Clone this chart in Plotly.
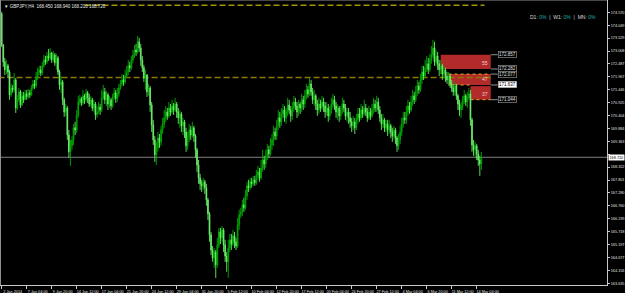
import plotly.graph_objects as go

symbol = "GBPJPY,H4"
first_open = 174.51
closes = [
173.25,172.57,172.25,172.41,172.16,171.24,171.52,171.44,171.84,170.71,171.04,171.36,170.83,171.20,171.04,171.28,
171.16,171.32,171.24,171.52,171.68,171.60,171.96,172.16,172.25,172.12,172.41,172.65,172.57,172.81,172.73,172.93,
172.65,172.85,172.53,172.73,172.16,171.64,171.76,171.04,170.55,170.71,169.62,168.94,169.18,169.42,169.91,169.82,
170.43,170.95,171.08,170.91,171.20,171.04,171.32,171.12,170.87,171.04,170.71,170.87,170.43,170.55,170.75,170.63,
171.12,171.36,171.04,171.24,170.87,171.04,170.79,171.16,171.32,171.08,171.28,171.52,171.68,171.84,171.76,172.00,
172.16,172.41,172.33,172.65,172.85,173.05,172.97,173.38,173.13,172.65,172.33,171.92,172.04,171.36,171.52,170.83,
170.03,169.42,168.82,169.10,169.50,169.34,169.82,170.07,170.31,170.55,170.39,170.71,170.55,170.79,170.63,170.87,
170.55,170.31,170.47,169.99,170.15,169.74,169.18,169.50,169.82,169.62,169.91,169.58,169.02,168.41,167.89,167.65,
167.57,167.73,167.49,167.00,166.44,165.59,164.98,164.66,164.90,164.38,165.18,165.71,165.47,165.79,165.18,164.74,
164.50,165.06,165.39,165.22,165.55,165.31,165.14,165.99,166.40,166.52,166.80,166.68,167.16,167.57,167.49,167.73,
167.65,167.81,167.69,168.01,168.13,167.89,168.29,168.61,168.45,168.78,169.02,168.86,169.22,169.42,169.74,169.58,
169.99,170.31,170.15,170.47,170.63,170.31,170.55,170.83,170.63,170.39,170.71,170.95,170.79,170.55,170.87,170.71,
171.04,170.87,171.20,171.44,171.28,171.68,171.36,171.04,171.20,170.87,170.63,170.87,170.71,170.95,170.79,170.55,
170.71,170.39,170.63,170.87,171.04,170.79,170.55,170.71,170.39,170.63,170.87,170.71,170.39,170.55,170.31,170.15,
169.99,170.15,169.91,170.23,170.47,170.31,170.63,170.47,170.71,170.55,170.31,170.55,170.39,170.63,170.87,170.71,
170.95,170.63,170.31,170.07,170.23,169.91,170.07,169.82,169.99,169.74,169.58,169.82,169.50,169.18,169.42,169.74,
170.07,170.31,170.23,170.55,170.79,170.63,170.95,171.20,171.04,171.36,171.60,171.44,171.84,172.16,172.00,172.33,
172.49,172.25,172.65,172.85,173.13,172.57,172.81,172.49,172.25,172.41,172.08,172.25,172.00,171.84,172.00,171.68,
171.52,171.36,171.60,171.20,170.87,170.63,170.79,171.04,171.20,170.95,171.12,171.28,170.23,169.22,169.02,169.18,
168.86,168.61,168.45,168.72]
highs = [
174.59,173.29,172.73,172.65,172.49,172.25,171.68,171.64,172.12,171.92,171.24,171.52,171.44,171.36,171.36,171.44,
171.44,171.48,171.44,171.64,171.84,171.84,172.16,172.33,172.41,172.41,172.57,172.85,172.81,172.97,173.09,173.13,
172.97,173.01,172.93,172.89,172.81,172.25,172.00,171.84,171.12,170.87,170.79,169.82,169.42,169.58,170.07,170.15,
170.63,171.20,171.24,171.16,171.44,171.28,171.48,171.40,171.28,171.20,171.12,171.04,170.95,170.79,170.95,170.87,
171.44,171.64,171.52,171.40,171.32,171.20,171.12,171.28,171.52,171.44,171.52,171.68,171.84,172.08,172.04,172.25,
172.41,172.65,172.57,172.81,173.05,173.25,173.29,173.62,173.54,173.29,172.81,172.45,172.25,172.08,171.68,171.60,
170.95,170.23,169.58,169.34,169.74,169.66,169.99,170.31,170.63,170.79,170.71,170.95,170.87,171.04,170.91,171.12,
170.95,170.71,170.63,170.55,170.31,170.23,169.91,169.74,170.07,169.99,170.15,169.99,169.66,169.10,168.61,168.05,
167.81,167.89,167.81,167.65,167.08,166.52,165.71,165.14,165.06,164.98,165.47,165.87,165.87,165.95,165.87,165.39,
164.90,165.39,165.63,165.63,165.79,165.71,165.47,166.27,166.60,166.68,167.00,167.08,167.40,167.73,167.81,167.89,
167.89,167.97,167.97,168.21,168.37,168.29,168.61,169.02,168.78,169.02,169.26,169.18,169.50,169.66,169.99,169.91,
170.23,170.63,170.55,170.71,170.87,170.79,170.71,171.12,171.04,170.79,170.95,171.20,171.12,170.95,171.04,170.95,
171.28,171.20,171.44,171.68,171.60,171.92,171.84,171.52,171.44,171.28,171.04,171.12,171.04,171.20,171.12,170.95,
170.95,170.87,170.79,171.12,171.28,171.20,170.95,170.87,170.79,170.79,171.12,171.04,170.87,170.71,170.71,170.55,
170.31,170.39,170.31,170.47,170.71,170.71,170.87,170.79,171.04,170.87,170.71,170.79,170.71,170.87,171.12,171.04,
171.20,171.12,170.79,170.47,170.47,170.31,170.23,170.23,170.23,170.07,169.91,169.99,169.91,169.58,169.66,169.99,
170.31,170.55,170.55,170.79,171.04,170.95,171.20,171.44,171.36,171.60,171.84,171.76,172.08,172.41,172.41,172.65,
172.81,172.73,172.89,173.21,173.46,173.38,173.05,172.97,172.65,172.65,172.49,172.41,172.33,172.16,172.16,172.08,
171.84,171.68,171.76,171.68,171.28,171.04,170.95,171.20,171.44,171.28,171.36,171.52,171.44,170.31,169.42,169.34,
169.26,169.02,168.78,168.94]
lows = [
173.17,172.37,172.04,172.08,171.92,171.04,171.16,171.32,171.36,170.51,170.63,170.95,170.71,170.79,170.91,171.04,
171.04,171.08,171.12,171.20,171.44,171.48,171.52,171.84,172.04,172.00,172.04,172.33,172.45,172.49,172.61,172.65,
172.53,172.57,172.41,172.25,172.04,171.44,171.32,170.83,170.35,170.39,169.42,168.70,168.37,169.02,169.22,169.62,
169.70,170.31,170.83,170.79,170.83,170.87,170.95,170.91,170.75,170.79,170.59,170.55,170.23,170.31,170.47,170.43,
170.55,171.04,170.87,170.79,170.63,170.71,170.63,170.71,171.04,170.91,170.95,171.16,171.44,171.60,171.60,171.68,
171.92,172.04,172.16,172.25,172.53,172.73,172.81,172.89,172.97,172.41,172.16,171.76,171.44,171.16,171.20,170.55,
169.74,169.22,168.53,168.41,168.94,169.10,169.18,169.66,169.91,170.15,170.23,170.31,170.39,170.47,170.43,170.55,
170.31,170.07,169.91,169.74,169.62,169.50,168.94,169.02,169.34,169.42,169.50,169.34,168.70,168.13,167.65,167.40,
167.32,167.40,167.24,166.76,166.19,165.31,164.78,164.50,164.26,163.85,164.26,165.06,165.22,165.31,164.90,164.50,
164.10,163.85,164.90,164.98,165.14,165.06,164.98,165.06,165.79,166.27,166.35,166.52,166.60,167.00,167.32,167.40,
167.49,167.57,167.57,167.61,167.81,167.73,167.81,168.13,168.21,168.29,168.61,168.70,168.78,169.02,169.18,169.42,
169.42,169.82,169.91,169.99,170.31,170.15,170.07,170.39,170.47,170.15,170.23,170.55,170.63,170.31,170.39,170.47,
170.55,170.63,170.71,171.04,171.12,171.20,171.20,170.87,170.79,170.63,170.39,170.47,170.55,170.63,170.55,170.31,
170.39,170.15,170.23,170.47,170.71,170.63,170.31,170.23,170.15,170.23,170.47,170.55,170.23,170.15,170.07,169.91,
169.74,169.82,169.66,169.82,170.07,170.15,170.23,170.31,170.39,170.39,170.15,170.23,170.23,170.31,170.47,170.55,
170.55,170.47,170.15,169.82,169.91,169.74,169.74,169.58,169.66,169.50,169.34,169.42,169.26,168.94,169.02,169.26,
169.58,169.91,170.07,170.07,170.39,170.47,170.55,170.79,170.87,170.95,171.20,171.28,171.36,171.68,171.84,171.92,
172.16,172.08,172.16,172.49,172.73,172.41,172.41,172.25,172.00,172.08,171.84,171.92,171.76,171.68,171.60,171.52,
171.36,171.20,171.20,171.04,170.63,170.39,170.31,170.63,170.87,170.79,170.71,171.04,169.99,168.94,168.78,168.70,
168.61,168.37,167.97,168.21]

date_labels = ["2 Jan 2014", "7 Jan 04:00", "9 Jan 20:00", "14 Jan 12:00", "17 Jan 04:00",
               "21 Jan 20:00", "24 Jan 12:00", "29 Jan 04:00", "31 Jan 20:00", "5 Feb 12:00",
               "10 Feb 04:00", "12 Feb 20:00", "17 Feb 12:00", "20 Feb 04:00", "24 Feb 20:00",
               "27 Feb 12:00", "4 Mar 04:00", "6 Mar 20:00", "11 Mar 12:00", "14 Mar 04:00"]
date_label_bars = [0, 16, 32, 48, 64, 80, 96, 112, 128, 144, 160, 176, 192, 208, 224, 240, 256, 272, 288, 304]

price_ticks = [174.570, 174.049, 173.529, 173.008, 172.487, 171.967, 171.446, 170.925, 170.404,
               169.884, 169.363, 168.842, 168.322, 167.801, 167.280, 166.760, 166.239, 165.718,
               165.197, 164.677, 164.156, 163.635]
hidden_tick = 168.842  # covered by the bid price tag in the reference

zone_top = [172.857, 172.077, 171.590]
zone_bottom = [172.282, 171.637, 171.044]
zone_start = [281, 286, 300]
zone_end = 313
zone_strength = ["55", "47", "37"]
zone_price_tags = [172.857, 172.282, 172.077, 171.637, 171.044]
highlight_tag = 171.637

upper_line = 174.85
upper_line_bars = [53, 309]
mid_line = 171.94
mid_line_bars = [-2, 313]

x_range = [-1.09, 387.4]
y_range = [163.566, 175.066]

n = len(closes)
opens = [first_open] + closes[:-1]
bars = list(range(n))
last = closes[-1]

FONT = "Liberation Sans"
AX = 3.8
fig = go.Figure()
fig.add_trace(go.Candlestick(
    x=bars, open=opens, high=highs, low=lows, close=closes,
    increasing=dict(line=dict(color="#00a800", width=0.9), fillcolor="#008c00"),
    decreasing=dict(line=dict(color="#66ee66", width=0.9), fillcolor="#a8f8a8"),
    whiskerwidth=0, showlegend=False, hoverinfo="skip"))

shapes = []
for t, b, s in zip(zone_top, zone_bottom, zone_start):
    shapes.append(dict(type="rect", xref="x", yref="y", x0=s, x1=zone_end, y0=b, y1=t,
                       fillcolor="#b22a2a", line=dict(width=0), layer="below"))
shapes.append(dict(type="line", xref="x", yref="y", x0=zone_start[1], x1=zone_end, y0=zone_top[1], y1=zone_top[1],
                   line=dict(color="#e0b020", width=1, dash="dot"), layer="below"))
shapes.append(dict(type="line", xref="x", yref="y", x0=zone_start[1], x1=zone_start[2], y0=zone_bottom[1], y1=zone_bottom[1],
                   line=dict(color="#e0b020", width=1, dash="dot"), layer="below"))
shapes.append(dict(type="line", xref="x", yref="y", x0=zone_start[2], x1=zone_end, y0=zone_bottom[2], y1=zone_bottom[2],
                   line=dict(color="#e0b020", width=1, dash="dot"), layer="below"))
shapes.append(dict(type="line", xref="x", yref="y", x0=mid_line_bars[0], x1=mid_line_bars[1], y0=mid_line, y1=mid_line,
                   line=dict(color="#8a7a00", width=1.5, dash="6px,3px"), layer="below"))
shapes.append(dict(type="line", xref="x", yref="y", x0=upper_line_bars[0], x1=upper_line_bars[1], y0=upper_line, y1=upper_line,
                   line=dict(color="#a09400", width=1.5, dash="6px,3px"), layer="below"))
shapes.append(dict(type="line", xref="paper", yref="y", x0=0, x1=1, y0=last, y1=last,
                   line=dict(color="#808080", width=1), layer="below"))
for p in zone_price_tags:
    shapes.append(dict(type="line", xref="x", yref="y", x0=zone_end, x1=zone_end + 4.5, y0=p, y1=p,
                       line=dict(color="#909090", width=1), layer="below"))
shapes.append(dict(type="line", xref="paper", yref="paper", x0=0, x1=0, y0=0, y1=1,
                   line=dict(color="#909090", width=2)))
shapes.append(dict(type="line", xref="paper", yref="paper", x0=0, x1=1, y0=1, y1=1,
                   line=dict(color="#909090", width=1)))

ann = []
for b, s in zip(zone_bottom, zone_strength):
    ann.append(dict(x=zone_end - 0.8, y=b, xref="x", yref="y", text=s, showarrow=False,
                    xanchor="right", yanchor="bottom", yshift=1,
                    font=dict(family=FONT, size=5, color="#f0d0d0")))
for p in zone_price_tags:
    hl = (p == highlight_tag)
    ann.append(dict(x=zone_end + 4.5, y=p, xref="x", yref="y", text=f"{p:.3f}", showarrow=False,
                    xanchor="left", yanchor="middle",
                    bgcolor="#ffffff" if hl else "#000000", bordercolor="#a0a0a0", borderwidth=0.6, borderpad=0.5,
                    font=dict(family=FONT, size=4.5, color="#000000" if hl else "#e0e0e0")))
ann.append(dict(x=1, y=last, xref="paper", yref="y", text=f"{last:.3f}", showarrow=False,
                xanchor="left", yanchor="middle", xshift=1, bgcolor="#ffffff", borderpad=0.5,
                font=dict(family=FONT, size=AX, color="#000000")))
ann.append(dict(x=0.004, y=1, xref="paper", yref="paper", yanchor="top", xanchor="left", yshift=-2,
                text=f"▼ {symbol}  {opens[-1]:.3f} {highs[-1]:.3f} {lows[-1]:.3f} {closes[-1]:.3f}",
                showarrow=False, font=dict(family=FONT, size=4.5, color="#e8e8e8")))
teal = "#20b0b0"
ann.append(dict(x=598 / 607, y=1 - 17 / 285, xref="paper", yref="paper", xanchor="right", yanchor="middle",
                text=(f"D1: <span style='color:{teal}'>0%</span>  |  W1: <span style='color:{teal}'>0%</span>"
                      f"  |  MN: <span style='color:{teal}'>0%</span>"),
                showarrow=False, font=dict(family=FONT, size=5, color="#d8d8d8")))

fig.update_layout(
    width=625, height=293, margin=dict(l=0, r=18, t=0, b=8, autoexpand=False),
    paper_bgcolor="#000000", plot_bgcolor="#000000",
    shapes=shapes, annotations=ann, showlegend=False,
    xaxis=dict(range=x_range, rangeslider=dict(visible=False), showgrid=False, zeroline=False,
               showline=True, linecolor="#c8c8c8", linewidth=1, ticks="outside", ticklen=3,
               tickcolor="#c8c8c8", tickvals=date_label_bars, ticktext=date_labels,
               tickangle=0, automargin=False, ticklabelshift=11, ticklabelstandoff=-1,
               tickfont=dict(family=FONT, size=AX, color="#e0e0e0"), fixedrange=True),
    yaxis=dict(range=y_range, side="right", showgrid=False, zeroline=False, automargin=False,
               showline=True, linecolor="#c8c8c8", linewidth=1, ticks="outside", ticklen=2,
               tickcolor="#c8c8c8", tickvals=price_ticks,
               ticktext=["" if v == hidden_tick else f"{v:.3f}" for v in price_ticks],
               ticklabelstandoff=0,
               tickfont=dict(family=FONT, size=AX, color="#e0e0e0"), fixedrange=True),
)
fig.write_html("out.html")
